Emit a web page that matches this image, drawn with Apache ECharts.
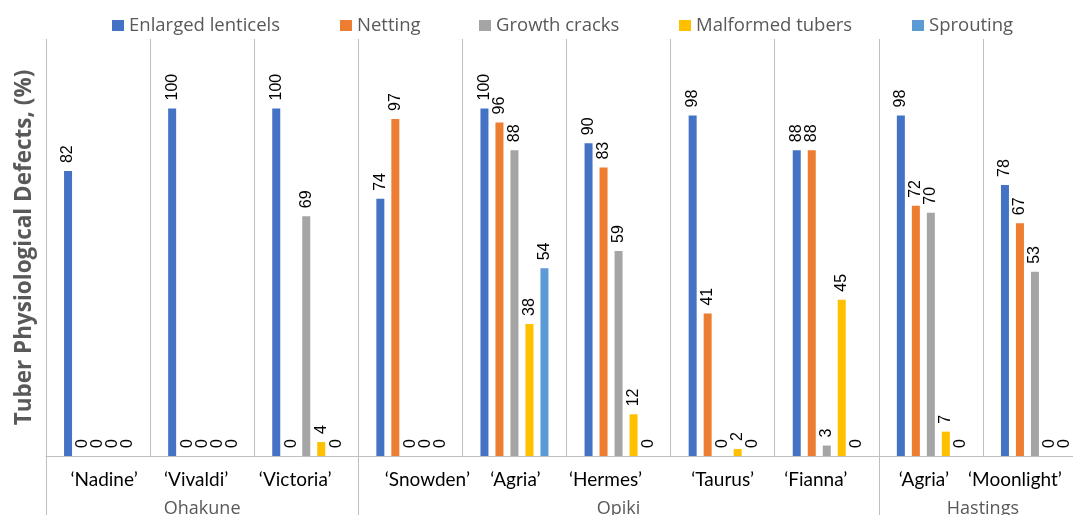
<!DOCTYPE html>
<html>
<head>
<meta charset="utf-8">
<title>Tuber Physiological Defects</title>
<script src="https://cdn.jsdelivr.net/npm/echarts@6/dist/echarts.min.js"></script>
<style>
  html, body { margin: 0; padding: 0; background: #fff; overflow: hidden; }
  #chart { width: 1073px; height: 515px; }
</style>
</head>
<body>
<div id="chart"></div>
<script>
// Cultivars (inner axis level) and their growing locations (outer axis level)
const categories = ["‘Nadine’", "‘Vivaldi’", "‘Victoria’", "‘Snowden’", "‘Agria’",
                    "‘Hermes’", "‘Taurus’", "‘Fianna’", "‘Agria’", "‘Moonlight’"];
const groupNames = ["Ohakune", "Opiki", "Hastings"];
const groupSizes = [3, 5, 2];

// Defect incidence per cultivar, %
const seriesNames = ["Enlarged lenticels", "Netting", "Growth cracks", "Malformed tubers", "Sprouting"];
const enlargedLenticels = [82, 100, 100, 74, 100, 90, 98, 88, 98, 78];
const netting           = [0, 0, 0, 97, 96, 83, 41, 88, 72, 67];
const growthCracks      = [0, 0, 69, 0, 88, 59, 0, 3, 70, 53];
const malformedTubers   = [0, 0, 4, 0, 38, 12, 2, 45, 7, 0];
const sprouting         = [0, 0, 0, 0, 54, 0, 0, 0, 0, 0];

const seriesValues = [enlargedLenticels, netting, growthCracks, malformedTubers, sprouting];

// Styling
const colors = ["#4472C4", "#ED7D31", "#A5A5A5", "#FFC000", "#5B9BD5"];
const legendLeft = [112, 340, 479, 679, 912];
// horizontal nudge (px) of each cultivar label away from its column centre
const labelNudge = [6, -6, -11, 17, 1, -13, 0, -11, -7, -20];
const gridLine = "#BFBFBF";

// Group boundaries and centres in category units
const boundaries = [0];
const centres = [];
groupSizes.forEach(function (n) {
  const start = boundaries[boundaries.length - 1];
  centres.push(start + n / 2);
  boundaries.push(start + n);
});

const categoryData = categories.map(function (name, i) {
  const d = labelNudge[i];
  return {
    value: name,
    textStyle: { padding: d >= 0 ? [0, 0, 0, 2 * d] : [0, -2 * d, 0, 0] }
  };
});

const chart = echarts.init(document.getElementById("chart"), null, { renderer: "canvas" });

chart.setOption({
  animation: false,
  color: colors,
  legend: seriesNames.map(function (name, i) {
    return {
      data: [name],
      left: legendLeft[i],
      top: 16,
      padding: 0,
      itemWidth: 12,
      itemHeight: 11,
      icon: "rect",
      textStyle: { fontFamily: "Open Sans", fontSize: 18.5, color: "#595959" }
    };
  }),
  // the last cultivar column runs slightly past the right edge of the canvas
  grid: { left: 46, right: -14, top: 39, bottom: 59, outerBoundsMode: "none", containLabel: false },
  xAxis: [
    {
      type: "category",
      data: categoryData,
      boundaryGap: true,
      position: "bottom",
      axisLine: { show: true, lineStyle: { color: gridLine, width: 1 } },
      axisTick: { show: false },
      splitLine: { show: true, interval: 0, lineStyle: { color: gridLine, width: 1 } },
      axisLabel: {
        interval: 0,
        margin: 14,
        fontFamily: "Lato",
        fontSize: 19,
        color: "#000"
      }
    },
    {
      type: "value",
      min: 0,
      max: categories.length,
      position: "bottom",
      axisLine: { show: false },
      splitLine: { show: false },
      axisTick: {
        show: true,
        customValues: boundaries,
        length: 62,
        lineStyle: { color: gridLine, width: 1 }
      },
      axisLabel: {
        customValues: centres,
        margin: 44,
        fontFamily: "Open Sans",
        fontSize: 18,
        color: "#595959",
        formatter: function (v) {
          const k = centres.indexOf(v);
          return k >= 0 ? groupNames[k] : "";
        }
      }
    }
  ],
  yAxis: {
    type: "value",
    min: 0,
    max: 120,
    axisLine: { show: false },
    axisTick: { show: false },
    axisLabel: { show: false },
    splitLine: { show: false },
    name: "Tuber Physiological Defects, (%)",
    nameLocation: "middle",
    nameGap: 10,
    nameTextStyle: {
      fontFamily: "Open Sans",
      fontSize: 22.5,
      fontWeight: "bold",
      color: "#595959"
    }
  },
  series: seriesNames.map(function (name, i) {
    return {
      name: name,
      type: "bar",
      xAxisIndex: 0,
      data: seriesValues[i],
      barWidth: 8,
      barGap: "87.5%",
      itemStyle: { color: colors[i] },
      label: {
        show: true,
        position: "top",
        rotate: 90,
        align: "left",
        verticalAlign: "middle",
        distance: 8,
        fontFamily: "Liberation Sans",
        fontSize: 16,
        color: "#000"
      }
    };
  })
});
</script>
</body>
</html>
